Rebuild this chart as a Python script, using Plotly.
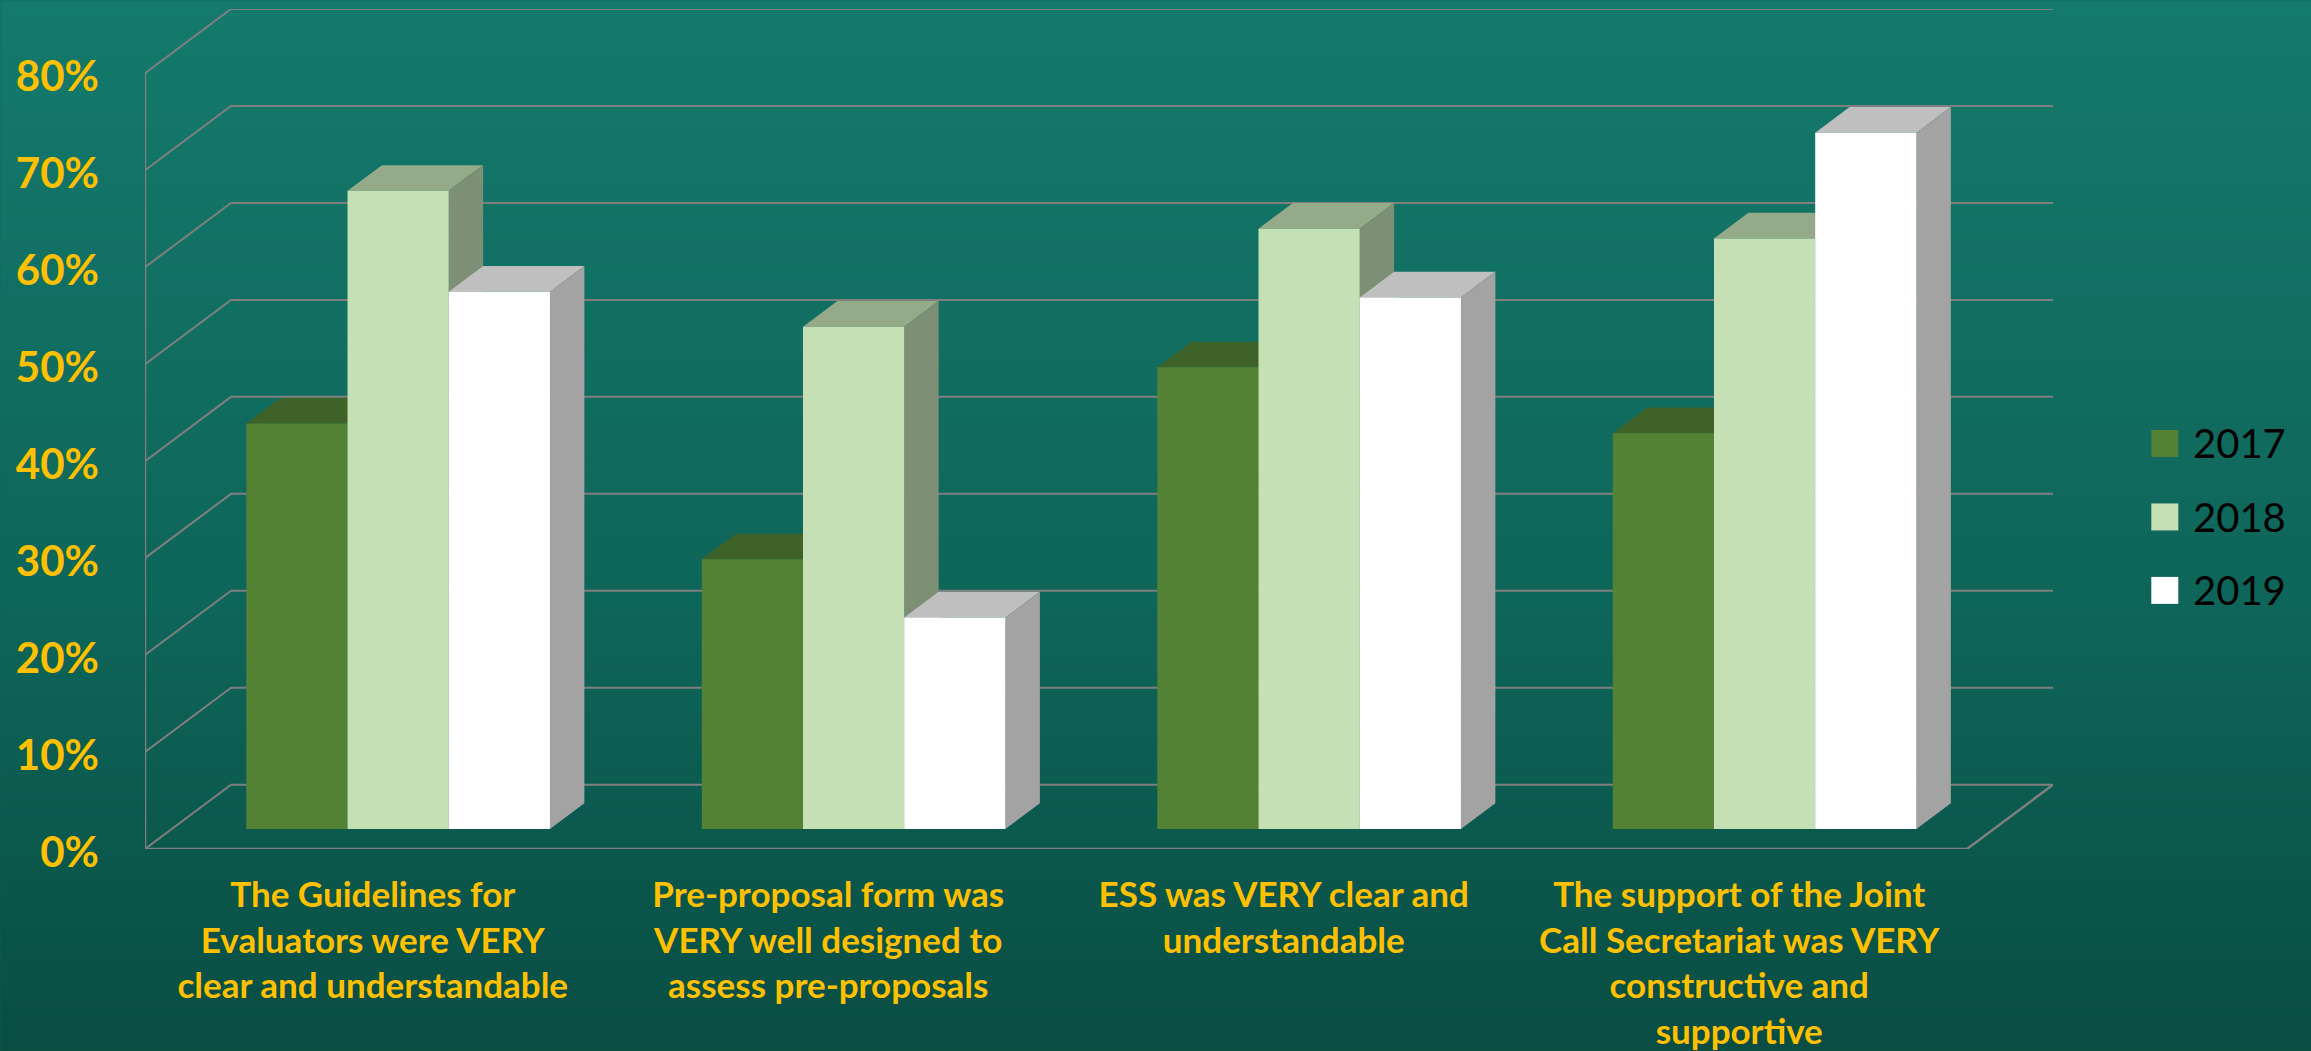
import plotly.graph_objects as go

categories = [
    "The Guidelines for<br>Evaluators were VERY<br>clear and understandable",
    "Pre-proposal form was<br>VERY well designed to<br>assess pre-proposals",
    "ESS was VERY clear and<br>understandable",
    "The support of the Joint<br>Call Secretariat was VERY<br>constructive and<br>supportive",
]
years = ["2017", "2018", "2019"]
values_2017 = [41.8, 27.8, 47.6, 40.8]
values_2018 = [65.8, 51.8, 61.9, 60.9]
values_2019 = [55.4, 21.8, 54.8, 71.8]
series_values = [values_2017, values_2018, values_2019]
front_colors = ["#548235", "#C5E0B4", "#FFFFFF"]
top_colors = ["#3F6229", "#94AA88", "#BFBFBF"]
side_colors = ["#3F6229", "#7D8F75", "#A3A3A3"]
y_ticks = [0, 10, 20, 30, 40, 50, 60, 70, 80]

W, H = 2311, 1051
LEFT, RIGHT, TOP, BOTTOM = 144.7, 2052.7, 8.7, 849.3
GROUP_PX = (1966 - LEFT) / 4
UNIT_PX = (BOTTOM - TOP - 64.3) / 80
DX = 86 / GROUP_PX            # full chart depth in category units
DY = 64.3 / UNIT_PX           # full chart depth in percentage points
BAR_W = 1 / 4.5
NEAR_X, NEAR_Y, DEPTH = 0.295, 0.3125, 0.4   # bar position within the chart depth
GRID = "#7F7F7F"
YELLOW = "#FFC000"
FONT = "Lato"

fig = go.Figure()

# walls: one polyline per tick
for t in y_ticks:
    fig.add_trace(go.Scatter(
        x=[-0.5, -0.5 + DX, 3.5 + DX], y=[t, t + DY, t + DY],
        mode="lines", line=dict(color=GRID, width=2),
        hoverinfo="skip", showlegend=False, zorder=0))
# front axis and floor
fig.add_trace(go.Scatter(
    x=[-0.5, -0.5, 3.5, 3.5 + DX], y=[80, 0, 0, DY],
    mode="lines", line=dict(color=GRID, width=2.5),
    hoverinfo="skip", showlegend=False, zorder=0))

for s, (year, vals) in enumerate(zip(years, series_values)):
    off = (s - 1.5) * BAR_W
    zt = 2 * s + 1
    ddx = DEPTH * DX
    ddy = DEPTH * DY
    yb = NEAR_Y * DY
    for i, v in enumerate(vals):
        x0 = i + off + NEAR_X * DX
        x1 = x0 + BAR_W
        ytop = yb + v
        # top face
        fig.add_trace(go.Scatter(
            x=[x0, x1, x1 + ddx, x0 + ddx, x0],
            y=[ytop, ytop, ytop + ddy, ytop + ddy, ytop],
            mode="lines", fill="toself", fillcolor=top_colors[s],
            line=dict(width=0), hoverinfo="skip", showlegend=False, zorder=zt))
        # side face
        fig.add_trace(go.Scatter(
            x=[x1, x1 + ddx, x1 + ddx, x1, x1],
            y=[yb, yb + ddy, ytop + ddy, ytop, yb],
            mode="lines", fill="toself", fillcolor=side_colors[s],
            line=dict(width=0), hoverinfo="skip", showlegend=False, zorder=zt))
    # front faces
    fig.add_trace(go.Bar(
        x=[i + off + BAR_W / 2 + NEAR_X * DX for i in range(4)],
        y=vals, base=yb, width=BAR_W, name=year,
        marker=dict(color=front_colors[s], line=dict(width=0)),
        showlegend=False, zorder=zt + 1))

# page gradient
stops = [(0.0, (20, 122, 108)), (0.6, (14, 100, 88)), (1.0, (9, 77, 67))]


def grad(f):
    for (a, ca), (b, cb) in zip(stops, stops[1:]):
        if f <= b:
            k = (f - a) / (b - a)
            return "rgb(%d,%d,%d)" % tuple(round(p + (q - p) * k) for p, q in zip(ca, cb))
    return "rgb(%d,%d,%d)" % stops[-1][1]


BANDS = 200
plot_h = BOTTOM - TOP
plot_w = RIGHT - LEFT
shapes = []
for k in range(BANDS):
    ya = k / BANDS * H
    yb_ = (k + 1) / BANDS * H + 1
    shapes.append(dict(
        type="rect", xref="paper", yref="paper", layer="below",
        x0=-LEFT / plot_w, x1=(W - LEFT) / plot_w,
        y0=(BOTTOM - yb_) / plot_h, y1=(BOTTOM - ya) / plot_h,
        line=dict(width=0), fillcolor=grad((k + 0.5) / BANDS)))

# legend
annotations = []
legend_y = [443.5, 517, 590.5]
for c, year, ly in zip(front_colors, years, legend_y):
    shapes.append(dict(
        type="rect", xref="paper", yref="paper", layer="above",
        x0=(2151 - LEFT) / plot_w, x1=(2178 - LEFT) / plot_w,
        y0=(BOTTOM - ly - 13.5) / plot_h, y1=(BOTTOM - ly + 13.5) / plot_h,
        line=dict(width=0), fillcolor=c))
    annotations.append(dict(
        xref="paper", yref="paper", x=(2191 - LEFT) / plot_w, y=(BOTTOM - ly) / plot_h,
        text=year, showarrow=False, xanchor="left", yanchor="middle",
        font=dict(family=FONT, size=40, color="#000000")))

fig.update_layout(
    width=W, height=H,
    margin=dict(l=LEFT, r=W - RIGHT, t=TOP, b=H - BOTTOM, pad=0, autoexpand=False),
    paper_bgcolor="rgb(14,100,88)", plot_bgcolor="rgba(0,0,0,0)",
    shapes=shapes, annotations=annotations, showlegend=False,
    barmode="overlay",
    xaxis=dict(range=[-0.5, 3.5 + DX], tickmode="array", tickvals=[0, 1, 2, 3],
               ticktext=categories, showgrid=False, zeroline=False, showline=False,
               ticks="", tickangle=0, automargin=False, ticklabelstandoff=22,
               tickfont=dict(family=FONT, size=35, color=YELLOW, weight=700)),
    yaxis=dict(range=[0, 80 + DY], tickmode="array", tickvals=y_ticks,
               ticktext=[f"{t}%" for t in y_ticks], showgrid=False, zeroline=False,
               showline=False, ticks="", automargin=False, ticklabelstandoff=45,
               ticklabelshift=3,
               tickfont=dict(family=FONT, size=42, color=YELLOW, weight=700)),
)

fig.write_html("out.html", config={"displayModeBar": False},
               post_script="document.body.style.margin='0';document.body.style.overflow='hidden';")
